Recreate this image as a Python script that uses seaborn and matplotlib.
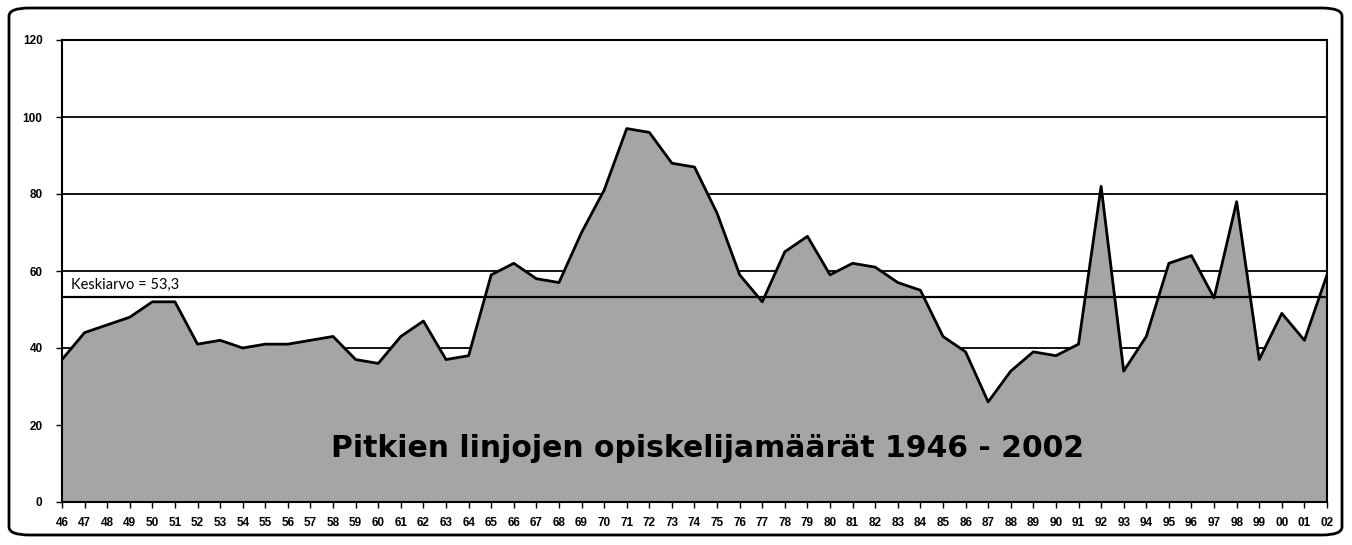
import numpy as np
import pandas as pd
import seaborn as sns
import matplotlib
matplotlib.use('Agg')
import matplotlib.pyplot as plt
from matplotlib.patches import FancyBboxPatch

years = ['46', '47', '48', '49', '50', '51', '52', '53', '54', '55', '56', '57', '58', '59',
         '60', '61', '62', '63', '64', '65', '66', '67', '68', '69', '70', '71', '72', '73',
         '74', '75', '76', '77', '78', '79', '80', '81', '82', '83', '84', '85', '86', '87',
         '88', '89', '90', '91', '92', '93', '94', '95', '96', '97', '98', '99', '00', '01', '02']
students = [37, 44, 46, 48, 52, 52, 41, 42, 40, 41, 41, 42, 43, 37,
            36, 43, 47, 37, 38, 59, 62, 58, 57, 70, 81, 97, 96, 88,
            87, 75, 59, 52, 65, 69, 59, 62, 61, 57, 55, 43, 39, 26,
            34, 39, 38, 41, 82, 34, 43, 62, 64, 53, 78, 37, 49, 42, 59]
mean_value = 53.3
mean_label = 'Keskiarvo = 53,3'
title = 'Pitkien linjojen opiskelijamäärät 1946 - 2002'
y_ticks = [0, 20, 40, 60, 80, 100, 120]

df = pd.DataFrame({'pos': np.arange(len(years)), 'year': years, 'students': students})

sns.set_theme(style='white')
plt.rcParams['font.family'] = ['Liberation Sans', 'DejaVu Sans']

fig = plt.figure(figsize=(13.52, 5.45), dpi=100)
ax = fig.add_axes([62 / 1352, 1 - 502 / 545, (1327 - 62) / 1352, (502 - 40) / 545])

# rounded frame round the whole chart
fig.patches.append(FancyBboxPatch((9 / 1352, 10 / 545), 1333 / 1352, 527 / 545,
                                  boxstyle='round,pad=0,rounding_size=0.015',
                                  transform=fig.transFigure, fill=False,
                                  edgecolor='black', linewidth=2))

for y in y_ticks[1:-1]:
    ax.axhline(y, color='black', linewidth=1.3, zorder=1)

ax.fill_between(df['pos'], df['students'], 0, color='#a5a5a5', zorder=2)
sns.lineplot(data=df, x='pos', y='students', color='black', linewidth=2, ax=ax, zorder=3)

ax.plot([0, len(years) - 1.1], [mean_value, mean_value], color='black', linewidth=1.6, zorder=4)
ax.text(0.4, mean_value + 1.3, mean_label, fontsize=10.5, family=['Lato', 'DejaVu Sans'],
        color='black', ha='left', va='bottom', zorder=5)

ax.text(28.6, 13.8, title, fontsize=21.5, fontweight='heavy', family=['DejaVu Sans'],
        color='black', ha='center', va='center', zorder=5)

ax.set_xlim(0, len(years) - 1)
ax.set_ylim(0, 120)
ax.set_xticks(df['pos'])
ax.set_xticklabels(years)
ax.set_yticks(y_ticks)
ax.set_xlabel('')
ax.set_ylabel('')
ax.tick_params(axis='both', labelsize=8.5, length=4, width=1, color='black', labelcolor='black',
               direction='out', bottom=True, left=True)
ax.tick_params(axis='x', pad=7)
ax.tick_params(axis='y', pad=10)
for lab in ax.get_xticklabels() + ax.get_yticklabels():
    lab.set_fontweight('bold')
for s in ax.spines.values():
    s.set_color('black')
    s.set_linewidth(1.5)
    s.set_zorder(6)

fig.savefig('out.png', dpi=100, facecolor='white')
